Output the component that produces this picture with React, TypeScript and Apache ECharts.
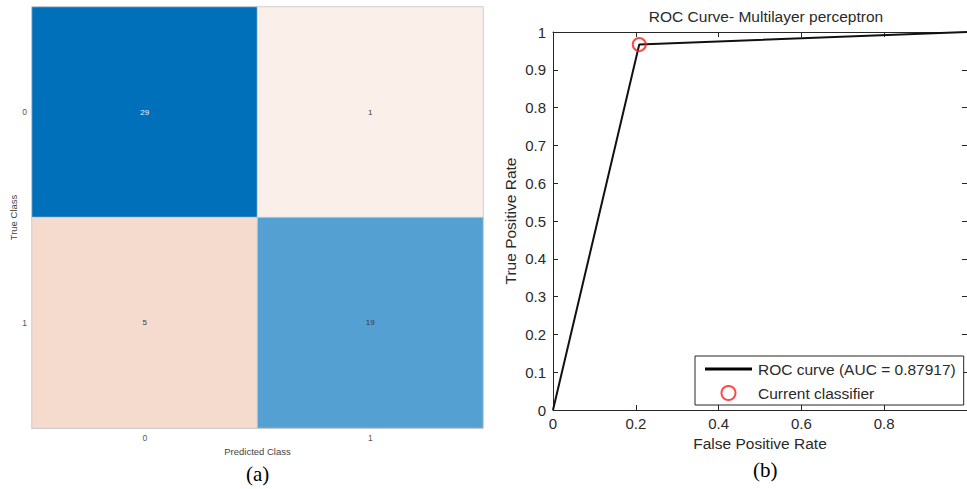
import React, { useEffect, useRef } from "react";
import * as echarts from "echarts";

// ---- data ----
const classLabels = ["0", "1"];
const confusionRows = [
  [29, 1],
  [5, 19],
];
const rocFPR = [0, 0.2083, 1];
const rocTPR = [0, 0.9667, 1];
const currentFPR = [0.2083];
const currentTPR = [0.9667];

// ---- styles ----
const cellColors = ["#0070BB", "#FBEFEA", "#F5DACE", "#55A0D3"]; // by cell index r*2+c
const cellTextColors = ["#E8F0FA", "#3a3a3a", "#3a3a3a", "#3a3a3a"];

const AX = "#262626";
const SANS = "Arial, 'Liberation Sans', Helvetica, sans-serif";

export default function App() {
  const ref = useRef<HTMLDivElement>(null);
  useEffect(() => {
    if (!ref.current) return;
    const chart = echarts.init(ref.current, undefined, { renderer: "svg" });

    const heatData: any[] = [];
    confusionRows.forEach((row, r) =>
      row.forEach((v, c) => {
        const idx = r * row.length + c;
        heatData.push({
          value: [c, r, v, idx],
          label: { color: cellTextColors[idx] },
        });
      })
    );

    const rocLine = rocFPR.map((x, i) => [x, rocTPR[i]]);
    const current = currentFPR.map((x, i) => [x, currentTPR[i]]);

    const option: any = {
      animation: false,
      backgroundColor: "#fff",
      title: {
        text: "ROC Curve- Multilayer perceptron",
        left: 761,
        top: 3,
        textAlign: "center",
        textStyle: { fontFamily: SANS, fontSize: 15.5, fontWeight: "normal", color: "#2a2a2a" },
      },
      visualMap: {
        type: "piecewise",
        show: false,
        seriesIndex: 0,
        dimension: 3,
        pieces: cellColors.map((color, i) => ({ value: i, color })),
      },
      grid: [
        {
          left: 32,
          top: 7,
          width: 451,
          height: 421,
          show: true,
          borderColor: "#c8c8c8",
          borderWidth: 1,
        },
        { left: 553, top: 32, width: 419, height: 378 },
      ],
      xAxis: [
        {
          gridIndex: 0,
          type: "category",
          data: classLabels,
          position: "bottom",
          axisLine: { show: true, lineStyle: { color: "#c8c8c8" } },
          axisTick: { show: false },
          axisLabel: { fontFamily: SANS, fontSize: 8.5, color: "#555", margin: 5 },
          name: "Predicted Class",
          nameLocation: "middle",
          nameGap: 15,
          nameTextStyle: { fontFamily: SANS, fontSize: 9.5, color: "#444" },
          splitLine: { show: false },
        },
        {
          gridIndex: 1,
          type: "value",
          min: 0,
          max: 1,
          interval: 0.2,
          position: "bottom",
          axisLine: { show: true, onZero: false, lineStyle: { color: AX, width: 1 } },
          axisTick: { show: true, inside: true, length: 5, lineStyle: { color: AX } },
          axisLabel: {
            fontFamily: SANS,
            fontSize: 15,
            color: "#2a2a2a",
            margin: 6,
            showMaxLabel: false,
            formatter: (v: number) => String(+v.toFixed(1)),
          },
          splitLine: { show: false },
          name: "False Positive Rate",
          nameLocation: "middle",
          nameGap: 23,
          nameTextStyle: { fontFamily: SANS, fontSize: 15.5, color: "#2a2a2a" },
        },
        {
          gridIndex: 1,
          type: "value",
          min: 0,
          max: 1,
          interval: 0.2,
          position: "top",
          axisLine: { show: true, onZero: false, lineStyle: { color: AX, width: 1 } },
          axisTick: { show: true, inside: true, length: 5, lineStyle: { color: AX } },
          axisLabel: { show: false },
          splitLine: { show: false },
        },
      ],
      yAxis: [
        {
          gridIndex: 0,
          type: "category",
          data: classLabels,
          inverse: true,
          axisLine: { show: true, lineStyle: { color: "#c8c8c8" } },
          axisTick: { show: false },
          axisLabel: { fontFamily: SANS, fontSize: 8.5, color: "#555", margin: 5 },
          name: "True Class",
          nameLocation: "middle",
          nameGap: 12,
          nameTextStyle: { fontFamily: SANS, fontSize: 9.5, color: "#444" },
          splitLine: { show: false },
        },
        {
          gridIndex: 1,
          type: "value",
          min: 0,
          max: 1,
          interval: 0.1,
          position: "left",
          axisLine: { show: true, onZero: false, lineStyle: { color: AX, width: 1 } },
          axisTick: { show: true, inside: true, length: 5, lineStyle: { color: AX } },
          axisLabel: {
            fontFamily: SANS,
            fontSize: 15,
            color: "#2a2a2a",
            margin: 7,
            formatter: (v: number) => String(+v.toFixed(1)),
          },
          splitLine: { show: false },
          name: "True Positive Rate",
          nameLocation: "middle",
          nameGap: 35,
          nameTextStyle: { fontFamily: SANS, fontSize: 15.5, color: "#2a2a2a" },
        },
        {
          gridIndex: 1,
          type: "value",
          min: 0,
          max: 1,
          interval: 0.1,
          position: "right",
          axisLine: { show: true, onZero: false, lineStyle: { color: AX, width: 1 } },
          axisTick: { show: true, inside: true, length: 5, lineStyle: { color: AX } },
          axisLabel: { show: false },
          splitLine: { show: false },
        },
      ],
      legend: {
        orient: "vertical",
        left: 695,
        top: 356,
        padding: [5, 8, 4, 10],
        itemGap: 8,
        itemWidth: 47,
        itemHeight: 14,
        borderColor: AX,
        borderWidth: 1,
        backgroundColor: "#fff",
        textStyle: { fontFamily: SANS, fontSize: 15.5, color: "#2a2a2a", padding: [0, 0, 0, 1] },
        data: [
          { name: "ROC curve (AUC = 0.87917)", icon: "path://M0,0 L100,0 L100,6 L0,6 Z", itemStyle: { color: "#000" } },
          { name: "Current classifier" },
        ],
      },
      series: [
        {
          type: "heatmap",
          xAxisIndex: 0,
          yAxisIndex: 0,
          data: heatData,
          itemStyle: { borderColor: "#cfcfcf", borderWidth: 0.8 },
          label: {
            show: true,
            fontFamily: SANS,
            fontSize: 8,
            formatter: (p: any) => String(p.value[2]),
          },
          emphasis: { disabled: true },
        },
        {
          type: "line",
          name: "ROC curve (AUC = 0.87917)",
          xAxisIndex: 1,
          yAxisIndex: 1,
          data: rocLine,
          showSymbol: false,
          symbol: "none",
          lineStyle: { color: "#111", width: 2 },
          itemStyle: { color: "#111" },
          clip: false,
        },
        {
          type: "scatter",
          name: "Current classifier",
          xAxisIndex: 1,
          yAxisIndex: 1,
          data: current,
          symbol: "circle",
          symbolSize: 13,
          itemStyle: { color: "transparent", borderColor: "#ff1a1a", borderWidth: 2 },
          z: 5,
        },
      ],
      graphic: [
        {
          type: "text",
          left: 246,
          top: 463,
          style: { text: "(a)", fontFamily: "'Liberation Serif', 'Times New Roman', serif", fontSize: 21, fill: "#000" },
        },
        {
          type: "text",
          left: 753,
          top: 459,
          style: { text: "(b)", fontFamily: "'Liberation Serif', 'Times New Roman', serif", fontSize: 21, fill: "#000" },
        },
      ],
    };

    chart.setOption(option);
    return () => chart.dispose();
  }, []);

  return (
    <div
      ref={ref}
      style={{ position: "fixed", left: 0, top: 0, width: 967, height: 489, background: "#fff" }}
    />
  );
}
